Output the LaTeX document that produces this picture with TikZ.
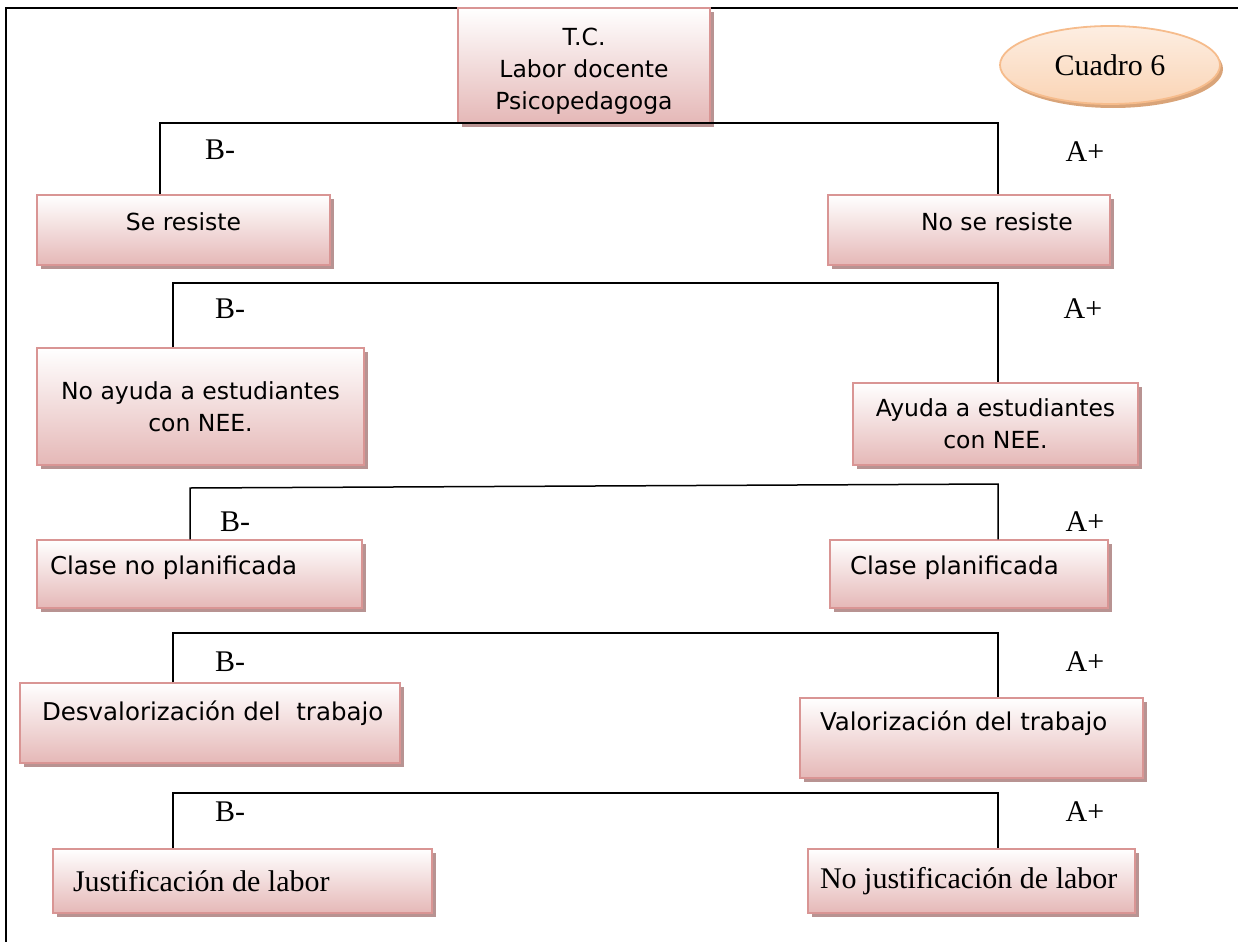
\documentclass[tikz,border=0pt]{standalone}
\usepackage{fontspec}
\setmainfont{Liberation Serif}
\newfontfamily\boxfont{DejaVu Sans}
\usetikzlibrary{shadows,shapes.geometric}
\definecolor{boxborder}{HTML}{D99594}
\definecolor{boxbottom}{HTML}{E5B8B7}
\definecolor{boxshadow}{HTML}{B89392}
\definecolor{ellborder}{HTML}{F6BC8C}
\definecolor{elltop}{HTML}{FDEEE2}
\definecolor{ellbottom}{HTML}{FAD4B5}
\definecolor{ellshadow}{HTML}{D9A479}
\newcommand{\leftin}[2]{\makebox[#1][l]{#2}}
\begin{document}
\begin{tikzpicture}[x=1pt,y=-1pt,
  pbox/.style={draw=boxborder, line width=1.5pt, top color=white, bottom color=boxbottom,
    drop shadow={shadow xshift=4pt, shadow yshift=-4pt, fill=boxshadow, opacity=1},
    inner sep=0pt, font=\boxfont\fontsize{23.5}{32}\selectfont},
  bbox/.style={pbox, font=\boxfont\fontsize{24.5}{32}\selectfont},
  sbox/.style={pbox, font=\fontsize{30}{36}\selectfont},
  lbl/.style={font=\fontsize{30}{36}\selectfont, inner sep=0pt},
  conn/.style={line width=1.5pt, black},
  frame/.style={line width=2pt, black}]
\useasboundingbox (0,0) rectangle (1238,942);
\coordinate (ftr) at (1238,8);
\coordinate (fc) at (6,8);
\coordinate (fbl) at (6,942);
\draw[frame] (ftr) -- (fc) -- (fbl);

% top box
\node[pbox, minimum width=252pt, minimum height=115pt, align=center] (top) at (584,65.5)
  {\rule{0pt}{29pt}T.C.\\Labor docente\\Psicopedagoga};
% Cuadro 6
\node[ellipse, draw=ellborder, line width=1.8pt, top color=elltop, bottom color=ellbottom,
  drop shadow={shadow xshift=3pt, shadow yshift=-4pt, fill=ellshadow, opacity=1},
  minimum width=220pt, minimum height=78pt, inner sep=0pt,
  font=\fontsize{30}{36}\selectfont] (cuadro) at (1110,65) {Cuadro 6};

% row 1
\node[pbox, minimum width=293pt, minimum height=70pt, text height=10pt, text depth=10pt] (sr) at (183.5,230) {Se resiste};
\node[pbox, minimum width=282pt, minimum height=70pt, text height=10pt, text depth=10pt] (nsr) at (969,230)
  {\leftin{96pt}{No se resiste}};
\coordinate (h1l) at (160,123);
\coordinate (h1r) at (998,123);
\draw[conn] (sr.north -| h1l) -- (h1l) -- (h1r) -- (nsr.north -| h1r);
\node[lbl] (b1) at (220,150) {B-};
\node[lbl] (a1) at (1085,152) {A+};

% row 2
\node[pbox, minimum width=327pt, minimum height=117pt, align=center] (nay) at (200.5,406.5)
  {No ayuda a estudiantes\\con NEE.};
\node[pbox, minimum width=285pt, minimum height=82pt, align=center] (ay) at (995.5,424)
  {Ayuda a estudiantes\\con NEE.};
\coordinate (h2l) at (173,283);
\coordinate (h2r) at (998,283);
\draw[conn] (nay.north -| h2l) -- (h2l) -- (h2r) -- (ay.north -| h2r);
\node[lbl] (b2) at (230,309) {B-};
\node[lbl] (a2) at (1083,309) {A+};

% row 3
\node[bbox, minimum width=325pt, minimum height=68pt, text height=10pt, text depth=10pt] (cnp) at (199.5,574)
  {\leftin{299pt}{Clase no planificada}};
\node[bbox, minimum width=278pt, minimum height=68pt, text height=10pt, text depth=10pt] (cp) at (969,574)
  {\leftin{238pt}{Clase planificada}};
\coordinate (h3l) at (190,488);
\coordinate (h3r) at (998,484);
\draw[conn] (cnp.north -| h3l) -- (h3l) -- (h3r) -- (cp.north -| h3r);
\node[lbl] (b3) at (235,522) {B-};
\node[lbl] (a3) at (1085,522) {A+};

% row 4
\node[bbox, minimum width=380pt, minimum height=80pt, text height=8pt, text depth=14pt] (desv) at (210,723)
  {\leftin{336pt}{Desvalorización del\ \ trabajo}};
\node[bbox, minimum width=343pt, minimum height=80pt, text height=4pt, text depth=20pt] (val) at (971.5,738)
  {\leftin{303pt}{Valorización del trabajo}};
\coordinate (h4l) at (173,633);
\coordinate (h4r) at (998,633);
\draw[conn] (desv.north -| h4l) -- (h4l) -- (h4r) -- (val.north -| h4r);
\node[lbl] (b4) at (230,662) {B-};
\node[lbl] (a4) at (1085,662) {A+};

% row 5
\node[sbox, minimum width=379pt, minimum height=64pt] (just) at (242.5,881)
  {\leftin{339pt}{Justificación de labor}};
\node[sbox, minimum width=327pt, minimum height=64pt] (njust) at (971.5,881)
  {\leftin{303pt}{No justificación de labor}};
\coordinate (h5l) at (173,793);
\coordinate (h5r) at (998,793);
\draw[conn] (just.north -| h5l) -- (h5l) -- (h5r) -- (njust.north -| h5r);
\node[lbl] (b5) at (230,812) {B-};
\node[lbl] (a5) at (1085,812) {A+};
\end{tikzpicture}
\end{document}
